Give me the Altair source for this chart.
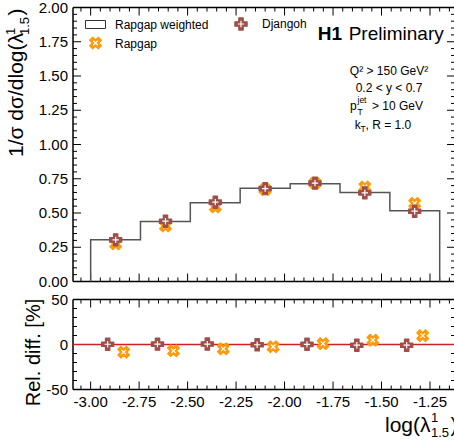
import altair as alt
import pandas as pd

FONT = "Liberation Sans"

# ---- data ----
EDGES = [-3.0, -2.743, -2.486, -2.229, -1.971, -1.714, -1.457, -1.2]
CENTERS = [-2.871, -2.614, -2.357, -2.100, -1.843, -1.586, -1.329]
HIST = [0.304, 0.438, 0.574, 0.681, 0.713, 0.650, 0.516]          # Rapgap weighted
DJANGOH = [0.304, 0.440, 0.579, 0.678, 0.718, 0.647, 0.513]
RAPGAP = [0.275, 0.405, 0.545, 0.672, 0.718, 0.690, 0.570]
REL_DJANGOH = [0.3, 0.4, 0.5, -0.3, 0.2, -0.8, -0.8]
REL_RAPGAP = [-8.5, -7.0, -4.8, -2.5, 1.0, 4.8, 9.8]

X_TICKS = [-3.0, -2.75, -2.5, -2.25, -2.0, -1.75, -1.5, -1.25]
X_LABELS = ["-3.00", "-2.75", "-2.50", "-2.25", "-2.00", "-1.75", "-1.50", "-1.25"]
Y_TOP_TICKS = [0.0, 0.25, 0.5, 0.75, 1.0, 1.25, 1.5, 1.75, 2.0]
Y_TOP_LABELS = ["0.00", "0.25", "0.50", "0.75", "1.00", "1.25", "1.50", "1.75", "2.00"]
Y_BOT_TICKS = [-50, 0, 50]
Y_BOT_LABELS = ["-50", "0", "50"]
Y_BOT_MINOR = [-40, -30, -20, -10, 10, 20, 30, 40]

X_DOMAIN = [-3.091, -1.121]

# ---- layout (pixels inside the view) ----
VIEW_W = 381          # visible part of the view
XR = 382              # x scale range end (right frame falls just outside the window)
TOP_Y0, TOP_Y1 = 0, 274
BOT_Y0, BOT_Y1 = 292, 382
VIEW_H = 433.5


def minors(start, stop, step, major_step):
    out = []
    n = int(round((stop - start) / step))
    for i in range(n + 1):
        v = round(start + i * step, 4)
        r = v / major_step
        if abs(r - round(r)) > 1e-6:
            out.append(v)
    return out


X_MINOR = [v for v in minors(-3.05, -1.15, 0.05, 0.25) if X_DOMAIN[0] < v < X_DOMAIN[1]]
Y_TOP_MINOR = minors(0.05, 1.95, 0.05, 0.25)

ORANGE = "#ff9a0d"
BROWN = "#9d4f49"
HIST_COLOR = "#555555"
ZERO_COLOR = "#d41f1f"

XS = alt.Scale(domain=X_DOMAIN, range=[0, XR], nice=False, zero=False)
YS_TOP = alt.Scale(domain=[0, 2], range=[TOP_Y1, TOP_Y0], nice=False, zero=False)
YS_BOT = alt.Scale(domain=[-50, 50], range=[BOT_Y1, BOT_Y0], nice=False, zero=False)

PLUS = "M-1,-0.36H-0.36V-1H0.36V-0.36H1V0.36H0.36V1H-0.36V0.36H-1Z"
INNER = "M-0.8,0H0.8M0,-0.8V0.8"

one = pd.DataFrame({"a": [0]})


def X(field="x"):
    return alt.X(f"{field}:Q", scale=XS, axis=None)


def Y(scale, field="y"):
    return alt.Y(f"{field}:Q", scale=scale, axis=None)


def marker(df, enc, color, angle=None, xoff=None, size=150):
    kw = {}
    if angle:
        kw["angle"] = angle
    if xoff:
        kw["xOffset"] = xoff
    outer = alt.Chart(df).mark_point(shape=PLUS, filled=True, fill=color, stroke=color,
                                     strokeWidth=1.2, strokeJoin="round", size=size,
                                     opacity=1, **kw).encode(**enc)
    inner = alt.Chart(df).mark_point(shape=INNER, filled=False, stroke="white",
                                     strokeWidth=1.2, size=size * 0.42, opacity=1,
                                     **kw).encode(**enc)
    return [outer, inner]


def txt(s, x, y, size=12, align="left", baseline="alphabetic", angle=None, weight="normal"):
    kw = dict(align=align, baseline=baseline, fontSize=size, font=FONT, color="black",
              fontWeight=weight)
    if angle is not None:
        kw["angle"] = angle
    return alt.Chart(pd.DataFrame({"t": [s]})).mark_text(**kw).encode(
        x=alt.value(x), y=alt.value(y), text="t:N")


def frame(y0, y1):
    st = dict(color="black", strokeWidth=1.5)
    return [
        alt.Chart(one).mark_rule(**st).encode(x=alt.value(0), x2=alt.value(XR), y=alt.value(y0)),
        alt.Chart(one).mark_rule(**st).encode(x=alt.value(0), x2=alt.value(XR), y=alt.value(y1)),
        alt.Chart(one).mark_rule(**st).encode(x=alt.value(0), y=alt.value(y0), y2=alt.value(y1)),
        alt.Chart(one).mark_rule(**st).encode(x=alt.value(XR), y=alt.value(y0), y2=alt.value(y1)),
    ]


def ticks(y0, y1, yvals, yminor, yscale):
    dx = pd.DataFrame({"v": X_TICKS})
    dxm = pd.DataFrame({"v": X_MINOR})
    dy = pd.DataFrame({"v": yvals})
    dym = pd.DataFrame({"v": yminor})
    rule = dict(color="black", strokeWidth=1)
    xe = X("v")
    ye = Y(yscale, "v")
    return [
        alt.Chart(dx).mark_rule(**rule).encode(x=xe, y=alt.value(y1), y2=alt.value(y1 - 8)),
        alt.Chart(dx).mark_rule(**rule).encode(x=xe, y=alt.value(y0), y2=alt.value(y0 + 8)),
        alt.Chart(dxm).mark_rule(**rule).encode(x=xe, y=alt.value(y1), y2=alt.value(y1 - 4)),
        alt.Chart(dxm).mark_rule(**rule).encode(x=xe, y=alt.value(y0), y2=alt.value(y0 + 4)),
        alt.Chart(dy).mark_rule(**rule).encode(y=ye, x=alt.value(0), x2=alt.value(8)),
        alt.Chart(dym).mark_rule(**rule).encode(y=ye, x=alt.value(0), x2=alt.value(4)),
        alt.Chart(dy).mark_rule(**rule).encode(y=ye, x=alt.value(XR), x2=alt.value(XR - 8)),
        alt.Chart(dym).mark_rule(**rule).encode(y=ye, x=alt.value(XR), x2=alt.value(XR - 4)),
    ]


def ylabels(vals, labels, yscale):
    df = pd.DataFrame({"v": vals, "t": labels})
    return alt.Chart(df).mark_text(align="right", baseline="middle", fontSize=15, font=FONT,
                                   color="black").encode(
        x=alt.value(-5), y=Y(yscale, "v"), text="t:N")


# ---- top panel ----
hx, hy = [EDGES[0]], [0.0]
for i, v in enumerate(HIST):
    hx += [EDGES[i], EDGES[i + 1]]
    hy += [v, v]
hx.append(EDGES[-1])
hy.append(0.0)
hist_df = pd.DataFrame({"x": hx, "y": hy, "o": list(range(len(hx)))})

hist = alt.Chart(hist_df).mark_line(color=HIST_COLOR, strokeWidth=1.5).encode(
    x=X(), y=Y(YS_TOP), order="o:Q")

enc_top = dict(x=X(), y=Y(YS_TOP))
rg_top = marker(pd.DataFrame({"x": CENTERS, "y": RAPGAP}), enc_top, ORANGE, angle=45)
dj_top = marker(pd.DataFrame({"x": CENTERS, "y": DJANGOH}), enc_top, BROWN)

legend = [
    alt.Chart(one).mark_rect(fill="white", stroke="#333333", strokeWidth=1).encode(
        x=alt.value(12.5), x2=alt.value(32.5), y=alt.value(13), y2=alt.value(21)),
    txt("Rapgap weighted", 42, 17, size=12, baseline="middle"),
    *marker(one, dict(x=alt.value(22.5), y=alt.value(35.5)), ORANGE, angle=45),
    txt("Rapgap", 42, 36, size=12, baseline="middle"),
    *marker(one, dict(x=alt.value(168), y=alt.value(16.5)), BROWN),
    txt("Djangoh", 189, 16.5, size=12, baseline="middle"),
    txt("H1", 244.7, 26.5, size=19, baseline="middle", weight="bold"),
    txt("Preliminary", 275.7, 26.5, size=19, baseline="middle"),
    txt("Q² > 150 GeV²", 316, 63.5, size=12, align="center", baseline="middle"),
    txt("0.2 < y < 0.7", 316, 80.5, size=12, align="center", baseline="middle"),
    txt("p", 277, 102.5, size=12),
    txt("jet", 284.5, 95, size=8.5),
    txt("T", 284.5, 107.5, size=8.5),
    txt("> 10 GeV", 299, 102.5, size=12),
    txt("k", 281.7, 121, size=12),
    txt("T", 287.5, 124, size=8.5),
    txt(", R = 1.0", 292.5, 121, size=12),
]

ytitle = [
    txt("1/σ dσ/dlog(λ", -50, 149.5, size=21, angle=270),
    txt("1", -58.5, 27.5, size=13, angle=270),
    txt("1.5", -44.5, 27.5, size=13, angle=270),
    txt(")", -50, 8, size=21, angle=270),
]

# ---- bottom panel ----
zero = alt.Chart(pd.DataFrame({"y": [0]})).mark_rule(color=ZERO_COLOR, strokeWidth=1.3).encode(
    y=Y(YS_BOT), x=alt.value(0), x2=alt.value(XR))

enc_bot = dict(x=X(), y=Y(YS_BOT))
rg_bot = marker(pd.DataFrame({"x": CENTERS, "y": REL_RAPGAP}), enc_bot, ORANGE, angle=45, xoff=8)
dj_bot = marker(pd.DataFrame({"x": CENTERS, "y": REL_DJANGOH}), enc_bot, BROWN, xoff=-8)

xlab = alt.Chart(pd.DataFrame({"v": X_TICKS, "t": X_LABELS})).mark_text(
    align="center", baseline="alphabetic", fontSize=15, font=FONT, color="black").encode(
    x=X("v"), y=alt.value(BOT_Y1 + 17), text="t:N")

btitles = [
    txt("Rel. diff. [%]", -33, BOT_Y0 + 53, size=20, align="center", angle=270),
    txt("log(λ", 312, BOT_Y0 + 132, size=21),
    txt("1", 358, BOT_Y0 + 122.5, size=13),
    txt("1.5", 358, BOT_Y0 + 137, size=13),
    txt(")", 377.5, BOT_Y0 + 132, size=21),
]

chart = alt.layer(
    *frame(TOP_Y0, TOP_Y1), *ticks(TOP_Y0, TOP_Y1, Y_TOP_TICKS, Y_TOP_MINOR, YS_TOP),
    *frame(BOT_Y0, BOT_Y1), *ticks(BOT_Y0, BOT_Y1, Y_BOT_TICKS, Y_BOT_MINOR, YS_BOT),
    zero, hist, *rg_top, *dj_top, *rg_bot, *dj_bot,
    *legend, *ytitle,
    ylabels(Y_TOP_TICKS, Y_TOP_LABELS, YS_TOP), ylabels(Y_BOT_TICKS, Y_BOT_LABELS, YS_BOT),
    xlab, *btitles,
).resolve_scale(y="independent").properties(
    width=VIEW_W, height=VIEW_H,
    autosize=alt.AutoSizeParams(type="none"),
    padding={"left": 73, "top": 7.5, "right": 0, "bottom": 0},
).configure_view(stroke="transparent")

chart.save("out.html", embed_options={"renderer": "svg", "actions": False})
